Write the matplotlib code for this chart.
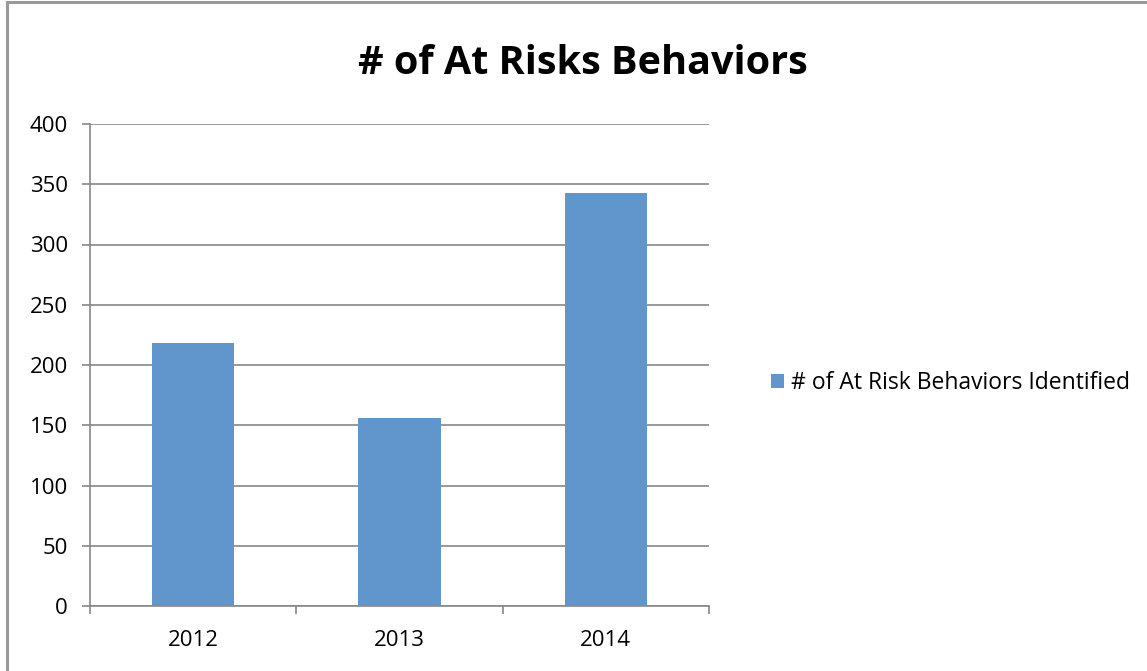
import matplotlib.pyplot as plt
from matplotlib.patches import Rectangle

# data
years = ["2012", "2013", "2014"]
behaviors = [218, 156, 343]
yticks = [0, 50, 100, 150, 200, 250, 300, 350, 400]

bar_color = "#6096CB"
grid_color = "#878787"

plt.rcParams['font.family'] = ['Open Sans', 'DejaVu Sans']

fig = plt.figure(figsize=(11.47, 6.71), dpi=100)
ax = fig.add_axes([90 / 1147, 65 / 671, 619 / 1147, 482 / 671])

# outer chart border
fig.patches.append(Rectangle((7 / 1147, -0.01), 1.2, 1.01 - 2 / 671, transform=fig.transFigure,
                             fill=False, edgecolor="#999999", linewidth=2.2))

x = range(len(years))
ax.bar(x, behaviors, width=0.4, color=bar_color, zorder=3,
       label="# of At Risk Behaviors Identified")

ax.set_xlim(-0.5, 2.5)
ax.set_ylim(0, 400)
ax.set_yticks(yticks)
ax.set_yticklabels([str(v) for v in yticks], fontsize=16)
ax.grid(axis="y", color=grid_color, linewidth=1.2, zorder=0)

# category labels centered, ticks at boundaries
ax.set_xticks([-0.5, 0.5, 1.5, 2.5])
ax.set_xticklabels([])
ax.set_xticks(list(x), minor=True)
ax.set_xticklabels(years, minor=True, fontsize=16)
ax.tick_params(axis="x", which="major", length=6, color=grid_color, width=1.2, direction="out")
ax.tick_params(axis="x", which="minor", length=0, pad=17)
ax.tick_params(axis="y", length=6, color=grid_color, width=1.2, direction="out", pad=10)

for side in ["top", "right"]:
    ax.spines[side].set_visible(False)
for side in ["left", "bottom"]:
    ax.spines[side].set_color(grid_color)
    ax.spines[side].set_linewidth(1.2)

fig.text(583 / 1147, 1 - 63 / 671, "# of At Risks Behaviors", ha="center", va="center",
         fontsize=28.5, fontweight="bold")

fig.legend(loc="center left", bbox_to_anchor=(750 / 1147, 1 - 383 / 671), frameon=False,
           fontsize=16.5, handlelength=0.6, handleheight=0.6, handletextpad=0.3)

fig.savefig("out.png", dpi=100)
